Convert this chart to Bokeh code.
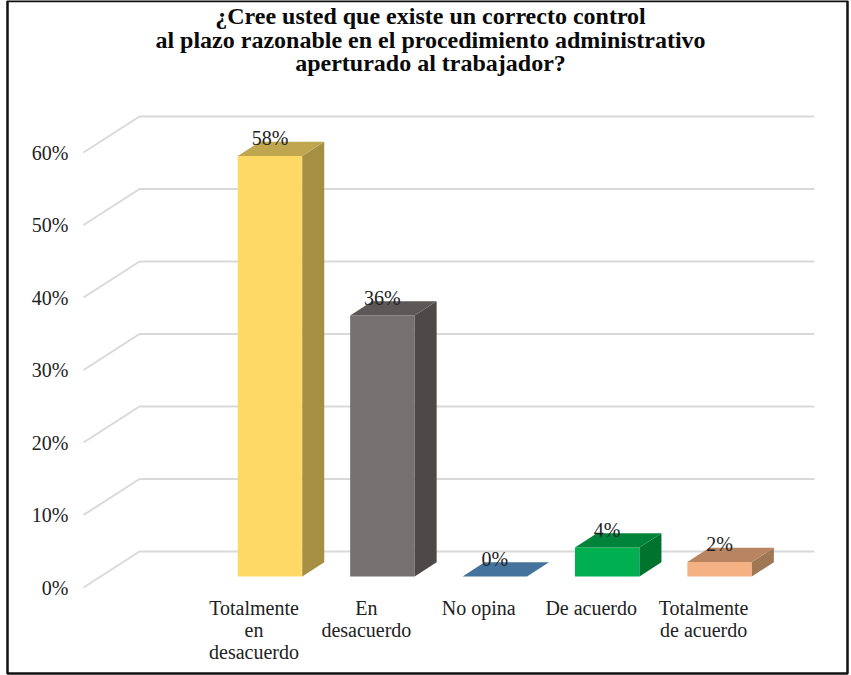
from bokeh.plotting import figure
from bokeh.models import Range1d, FixedTicker, ColumnDataSource
from bokeh.core.properties import value
from bokeh.embed import file_html
from bokeh.resources import INLINE

CATEGORIES = ["Totalmente\nen\ndesacuerdo", "En\ndesacuerdo", "No opina", "De acuerdo", "Totalmente\nde acuerdo"]
VALUES = [58, 36, 0, 4, 2]
LABELS = ["58%", "36%", "0%", "4%", "2%"]
TICKS = [0, 10, 20, 30, 40, 50, 60]
TICK_LABELS = ["0%", "10%", "20%", "30%", "40%", "50%", "60%"]
TITLE_LINES = ["¿Cree usted que existe un correcto control",
               "al plazo razonable en el procedimiento administrativo",
               "aperturado al trabajador?"]
FRONT = ["#FFD966", "#767171", "#4472A0", "#00B050", "#F4B183"]
SIDE = ["#A68E42", "#4D4948", "#2F5478", "#00742F", "#A07755"]
TOP = ["#BFA64F", "#5B5857", "#44749D", "#00843C", "#B88461"]

FONT = "Liberation Serif"
TEXT = "#222222"
W, H = 849, 675
PX_X = 112.4   # pixels per category
PX_Y = 7.25    # pixels per percentage point
CAT0_PX = 254.5  # pixel of the first category on the front plane
ZERO_PX = 588    # pixel of 0% on the front plane
AXIS_PX = 84     # pixel of the left end of the gridlines
def dx(px): return (px - CAT0_PX) / PX_X
def dy(py): return (ZERO_PX - py) / PX_Y

p = figure(width=W, height=H, output_backend="svg", toolbar_location=None,
           x_range=Range1d(dx(1), dx(W + 1)), y_range=Range1d(dy(H + 1), dy(1)),
           min_border=0, outline_line_color=None,
           background_fill_color="white", border_fill_color="white")
p.grid.visible = False

p.yaxis.fixed_location = dx(AXIS_PX)
p.xaxis.fixed_location = 0
p.yaxis.ticker = FixedTicker(ticks=TICKS)
p.yaxis.major_label_overrides = {t: l for t, l in zip(TICKS, TICK_LABELS)}
p.xaxis.ticker = FixedTicker(ticks=list(range(len(CATEGORIES))))
p.xaxis.major_label_overrides = {i: c for i, c in enumerate(CATEGORIES)}
for ax, standoff in ((p.yaxis, 15), (p.xaxis, 9)):
    ax.axis_line_color = None
    ax.major_tick_line_color = None
    ax.minor_tick_line_color = None
    ax.major_tick_out = 0
    ax.major_label_text_font = FONT
    ax.major_label_text_font_size = "20px"
    ax.major_label_text_color = TEXT
    ax.major_label_text_line_height = 1.0
    ax.major_label_standoff = standoff

# page frame
p.quad(left=[dx(8)], right=[dx(848)], bottom=[dy(674)], top=[dy(1.5)],
       fill_color=None, line_color="#111111", line_width=2.5)

# oblique gridlines
GX = 56 / PX_X
GY = 36 / PX_Y
G0 = dx(AXIS_PX)
GR = dx(815)
p.multi_line([[G0, G0 + GX, GR] for _ in TICKS],
             [[t, t + GY, t + GY] for t in TICKS],
             line_color="#D9D9D9", line_width=2)

# 3D bars
OX = 16 / PX_X
OY = 11 / PX_Y
BW = 64.5 / PX_X
DX = 22 / PX_X
DY = 14.3 / PX_Y
for i, v in enumerate(VALUES):
    l = i + OX - BW / 2
    r = i + OX + BW / 2
    b = OY
    t = v + OY
    if v > 0:
        p.quad(left=[l], right=[r], bottom=[b], top=[t], fill_color=FRONT[i], line_color=None)
        p.patch([r, r + DX, r + DX, r], [b, b + DY, t + DY, t], fill_color=SIDE[i], line_color=None)
    p.patch([l, r, r + DX, l + DX], [t, t, t + DY, t + DY], fill_color=TOP[i], line_color=None)

src = ColumnDataSource(dict(x=[i + OX for i in range(len(VALUES))],
                            y=[v + OY for v in VALUES], text=LABELS))
p.text("x", "y", text="text", source=src, text_align="center", text_baseline="middle", y_offset=-18,
       text_font=value(FONT), text_font_size="20px", text_color=TEXT)

# title
p.text([dx(431)] * 3, [dy(py) for py in (16.5, 40.5, 63.5)], text=TITLE_LINES, text_align="center",
       text_baseline="middle", text_font=value(FONT), text_font_style="bold",
       text_font_size="24px", text_color="#0A0A0A")

open("out.html", "w").write(file_html(p, INLINE))
